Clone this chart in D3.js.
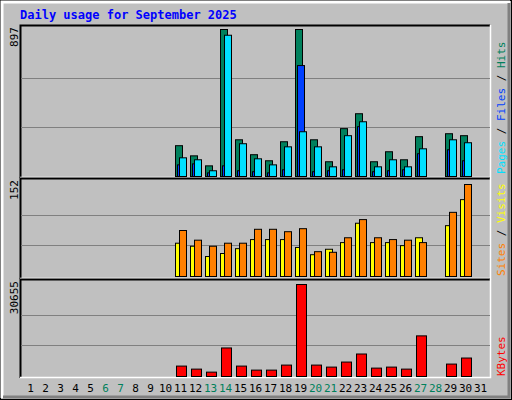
<!DOCTYPE html>
<html><head><meta charset="utf-8">
<script src="https://cdn.jsdelivr.net/npm/d3@7"></script>
<style>body{margin:0;background:#fff}svg{display:block}</style>
</head><body>
<script>
const days = d3.range(1, 32);
const weekend = [6,7,13,14,20,21,27,28];
const dataDays = [11,12,13,14,15,16,17,18,19,20,21,22,23,24,25,26,27,29,30];
const hits   = [188,126,65,897,224,133,96,212,897,224,90,292,383,90,151,102,243,261,249];
const files  = [114,102,35,862,200,108,71,181,273,181,59,249,334,59,102,59,169,224,206];
const pages  = [71,77,22,65,35,29,22,41,677,29,35,41,304,29,35,41,139,163,96];
const visits = [76,60,50,55,55,78,78,74,79,41,40,64,94,64,61,60,56,106,152];
const sites  = [55,50,33,38,46,61,61,61,48,36,45,56,88,56,56,51,64,84,127];
const kbytes = [3469,2461,1455,9510,3469,2126,2126,3804,30655,3804,3133,4811,7496,2797,3133,2461,13538,4140,6154];
const maxLabels = ["897","152","30655"];

const W=512,H=400;
const svg=d3.select("body").append("svg").attr("width",W).attr("height",H);
const font="DejaVu Sans Mono";
svg.append("rect").attr("width",W).attr("height",H).attr("fill","#c0c0c0");
svg.append("rect").attr("x",0.5).attr("y",0.5).attr("width",W-1).attr("height",H-1).attr("fill","none").attr("stroke","#000");
svg.append("path").attr("d",`M2,${H-2}V2H${W-2}`).attr("fill","none").attr("stroke","#fff").attr("stroke-width",3);
svg.append("path").attr("d",`M3,${H-3}H${W-3}V3`).attr("fill","none").attr("stroke","#808080").attr("stroke-width",3);

svg.append("text").attr("x",20).attr("y",19).attr("font-family",font).attr("font-weight","bold")
  .attr("font-size",12).attr("fill","#0000ff").text("Daily usage for September 2025");

const x = d3.scaleBand().domain(days).range([20,485]).paddingInner(0).paddingOuter(0);
const panels=[
  {y0:25,y1:178,base:176,top:29,max:897},
  {y0:178,y1:279,base:276,top:184,max:152},
  {y0:279,y1:378,base:376,top:284,max:30655}];
panels.forEach((p,i)=>{
  p.scale=d3.scaleLinear().domain([0,p.max]).range([p.base,p.top]);
  svg.append("path").attr("d",`M20.5,${p.y1}V${p.y0+0.5}H490`).attr("fill","none").attr("stroke","#000").attr("stroke-width",2);
  svg.append("path").attr("d",`M20,${p.y1-0.5}H490.5V${p.y0}`).attr("fill","none").attr("stroke","#fff").attr("stroke-width",1.5);
  [1,2].forEach(k=>{
    const gy=Math.round(p.base-(p.base-p.top)*k/3)+0.5;
    svg.append("line").attr("x1",21).attr("x2",490).attr("y1",gy).attr("y2",gy).attr("stroke","#808080");
  });
  svg.append("text").attr("transform",`translate(18,${p.y0+2}) rotate(-90)`).attr("text-anchor","end")
    .attr("font-family",font).attr("font-size",11).attr("fill","#000").text(maxLabels[i]);
});

function bars(vals,panel,off,w,color){
  const p=panels[panel];
  svg.append("g").selectAll("rect").data(vals).join("rect")
    .attr("x",(v,j)=>x(dataDays[j])+off+0.5).attr("width",w)
    .attr("y",v=>p.scale(v)+0.5).attr("height",v=>p.base-p.scale(v))
    .attr("fill",color).attr("stroke","#000");
}
bars(hits,0,5,7,"#00805c");
bars(pages,0,7,7,"#0040ff");
bars(files,0,9,7,"#00e0ff");
bars(sites,1,5,7,"#ffff00");
bars(visits,1,9,7,"#ff8000");
bars(kbytes,2,6,10,"#ff0000");

svg.append("g").selectAll("text").data(days).join("text")
  .attr("x",d=>x(d)+x.bandwidth()/2+3).attr("y",392).attr("text-anchor","middle")
  .attr("font-family",font).attr("font-size",11)
  .attr("fill",d=>weekend.includes(d)?"#00805c":"#000").text(d=>d);

function rlabel(yBottom,parts){
  const t=svg.append("text").attr("transform",`translate(505,${yBottom}) rotate(-90)`)
    .attr("font-family",font).attr("font-size",11);
  parts.forEach(([s,c])=>t.append("tspan").attr("fill",c).text(s));
}
rlabel(174,[["Pages","#00e0ff"],[" / ","#000"],["Files","#0040ff"],[" / ","#000"],["Hits","#00805c"]]);
rlabel(276,[["Sites","#ff8000"],[" / ","#000"],["Visits","#ffff00"]]);
rlabel(376,[["KBytes","#ff0000"]]);
</script>
</body></html>
